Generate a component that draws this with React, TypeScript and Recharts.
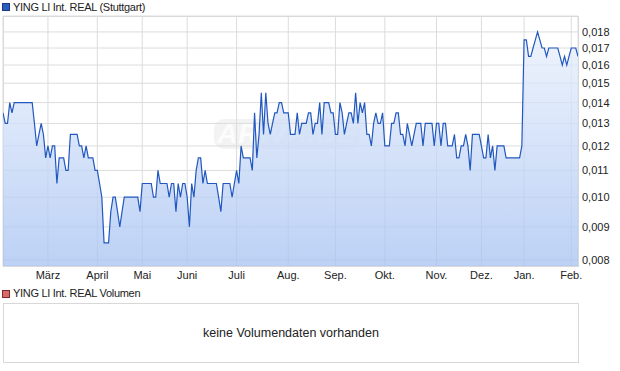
import React from 'react';
import { AreaChart, Area, XAxis, YAxis, CartesianGrid } from 'recharts';

// Daily closing prices (EUR), grouped by month
const febPrev = [0.0135, 0.013, 0.013, 0.014, 0.0135, 0.014, 0.014, 0.014, 0.014, 0.014, 0.014, 0.014, 0.014, 0.014, 0.013, 0.012, 0.0125, 0.013, 0.0125, 0.0115];
const mar = [0.012, 0.0115, 0.012, 0.012, 0.0105, 0.0115, 0.0115, 0.0115, 0.011, 0.011, 0.0125, 0.0125, 0.0125, 0.0125, 0.012, 0.012, 0.0115, 0.012, 0.0115, 0.0115, 0.0115, 0.011];
const apr = [0.011, 0.0105, 0.010, 0.0085, 0.0085, 0.0085, 0.0095, 0.010, 0.010, 0.0095, 0.009, 0.0095, 0.010, 0.010, 0.010, 0.010, 0.010, 0.010, 0.010, 0.0095];
const may = [0.0105, 0.0105, 0.0105, 0.0105, 0.0105, 0.010, 0.010, 0.011, 0.0105, 0.0105, 0.0105, 0.0105, 0.010, 0.0105, 0.0105, 0.0095, 0.0105, 0.010, 0.0105, 0.0105];
const jun = [0.010, 0.009, 0.0105, 0.010, 0.011, 0.0115, 0.0115, 0.0105, 0.011, 0.0105, 0.0105, 0.0105, 0.0105, 0.0105, 0.010, 0.0095, 0.0105, 0.0105, 0.0105, 0.0105, 0.010, 0.0105];
const jul = [0.011, 0.0105, 0.012, 0.0115, 0.0115, 0.0115, 0.0115, 0.011, 0.0135, 0.0115, 0.0125, 0.0145, 0.0125, 0.0145, 0.013, 0.0125, 0.013, 0.0135, 0.0135, 0.014, 0.014, 0.0135, 0.0135];
const aug = [0.0135, 0.0125, 0.0125, 0.0125, 0.0135, 0.0125, 0.013, 0.013, 0.013, 0.0135, 0.0135, 0.0125, 0.013, 0.013, 0.014, 0.0125, 0.014, 0.014, 0.014, 0.0135, 0.0135];
const sep = [0.0125, 0.0125, 0.014, 0.0135, 0.0125, 0.013, 0.0135, 0.0135, 0.013, 0.0145, 0.013, 0.014, 0.0135, 0.014, 0.0125, 0.0125, 0.012, 0.013, 0.0135, 0.013, 0.013, 0.0135];
const oct = [0.012, 0.012, 0.012, 0.013, 0.013, 0.0135, 0.0135, 0.0125, 0.0125, 0.012, 0.013, 0.0125, 0.012, 0.0125, 0.013, 0.013, 0.013, 0.012, 0.013, 0.013, 0.013, 0.013, 0.012];
const nov = [0.013, 0.013, 0.012, 0.013, 0.013, 0.012, 0.012, 0.012, 0.0125, 0.0115, 0.0115, 0.012, 0.012, 0.0125, 0.012, 0.011, 0.0125, 0.0125, 0.0125, 0.0125];
const dec = [0.012, 0.0115, 0.0115, 0.0125, 0.0115, 0.012, 0.011, 0.012, 0.012, 0.012, 0.012, 0.0115, 0.0115, 0.0115, 0.0115, 0.0115, 0.0115, 0.0115, 0.012];
const jan = [0.0175, 0.0175, 0.0165, 0.0165, 0.017, 0.0175, 0.018, 0.0175, 0.017, 0.017, 0.0165, 0.017, 0.017, 0.017, 0.017, 0.017, 0.0165, 0.016, 0.0165, 0.016, 0.0165];
const feb = [0.017, 0.017, 0.017, 0.0165];

const monthLabels = ['März', 'April', 'Mai', 'Juni', 'Juli', 'Aug.', 'Sep.', 'Okt.', 'Nov.', 'Dez.', 'Jan.', 'Feb.'];
const priceTicks = [0.008, 0.009, 0.010, 0.011, 0.012, 0.013, 0.014, 0.015, 0.016, 0.017, 0.018];
const priceDomain = [0.00783, 0.01905];

const seriesName = 'YING LI Int. REAL (Stuttgart)';
const volumeName = 'YING LI Int. REAL Volumen';
const volumeMessage = 'keine Volumendaten vorhanden';

const monthSeries = [mar, apr, may, jun, jul, aug, sep, oct, nov, dec, jan, feb];
const allValues: number[] = [febPrev, ...monthSeries].flat();
const data = allValues.map((v, i) => ({ i, v }));
const monthTicks: number[] = [];
{
  let acc = febPrev.length;
  monthSeries.forEach((m) => {
    monthTicks.push(acc);
    acc += m.length;
  });
}
const labelFor = (t: number) => {
  const k = monthTicks.indexOf(t);
  return k >= 0 ? monthLabels[k] : '';
};

const FONT = '"Liberation Sans", Arial, Helvetica, sans-serif';

export default function App() {
  return (
    <div
      style={{
        position: 'absolute',
        left: 0,
        top: 0,
        width: 620,
        height: 371,
        background: '#fff',
        fontFamily: FONT,
        color: '#222',
      }}
    >
      {/* price legend */}
      <div style={{ position: 'absolute', left: 2, top: 3, width: 6, height: 6, background: '#2a5cc4', border: '1px solid #1a3a80' }} />
      <div style={{ position: 'absolute', left: 13, top: 1, fontSize: 11, lineHeight: '13px', letterSpacing: '-0.3px', whiteSpace: 'nowrap' }}>
        {seriesName}
      </div>

      {/* plot frame */}
      <div style={{ position: 'absolute', left: 3, top: 16, width: 574, height: 249, border: '1px solid #d6d6d6' }} />

      {/* watermark */}
      <div
        style={{
          position: 'absolute',
          left: 214,
          top: 119,
          width: 146,
          height: 30,
          borderRadius: 10,
          background: 'rgba(190,190,190,0.18)',
          color: 'rgba(255,255,255,0.75)',
          fontSize: 28,
          fontWeight: 'bold',
          fontStyle: 'italic',
          lineHeight: '30px',
          textAlign: 'center',
          letterSpacing: '1px',
        }}
      >
        ARIVA.DE
      </div>

      <div style={{ position: 'absolute', left: 0, top: 0 }}>
        <AreaChart width={620} height={285} data={data} margin={{ top: 16, right: 0, left: 3, bottom: 0 }}>
          <defs>
            <linearGradient id="priceFill" x1="0" y1="0" x2="0" y2="1">
              <stop offset="0%" stopColor="#e9f0fc" stopOpacity={0.75} />
              <stop offset="100%" stopColor="#a6c2f2" stopOpacity={0.75} />
            </linearGradient>
          </defs>
          <CartesianGrid stroke="#dcdcdc" strokeWidth={1} />
          <XAxis
            dataKey="i"
            type="number"
            domain={[0, data.length - 1]}
            ticks={monthTicks}
            interval={0}
            tickFormatter={labelFor}
            height={19}
            tickLine={false}
            axisLine={false}
            tickSize={0}
            tickMargin={5}
            tick={{ fontSize: 11, fill: '#222', fontFamily: FONT }}
            allowDataOverflow
          />
          <YAxis
            orientation="right"
            scale="log"
            type="number"
            domain={priceDomain}
            allowDataOverflow
            ticks={priceTicks}
            interval={0}
            width={42}
            tickLine={false}
            axisLine={false}
            tickSize={0}
            tickMargin={4}
            tick={{ fontSize: 11, fill: '#222', fontFamily: FONT, textAnchor: 'start' }}
            tickFormatter={(v: number) => v.toFixed(3).replace('.', ',')}
          />
          <Area
            dataKey="v"
            type="linear"
            stroke="#2158c0"
            strokeWidth={1.2}
            fill="url(#priceFill)"
            fillOpacity={1}
            baseValue="dataMin"
            dot={false}
            activeDot={false}
            isAnimationActive={false}
          />
        </AreaChart>
      </div>

      {/* volume legend */}
      <div style={{ position: 'absolute', left: 2, top: 290, width: 6, height: 6, background: '#d96a6a', border: '1px solid #7a2a2a' }} />
      <div style={{ position: 'absolute', left: 13, top: 287, fontSize: 11, lineHeight: '13px', letterSpacing: '-0.3px', whiteSpace: 'nowrap' }}>
        {volumeName}
      </div>

      {/* volume panel */}
      <div
        style={{
          position: 'absolute',
          left: 3,
          top: 303,
          width: 574,
          height: 58,
          border: '1px solid #d8d8d8',
          display: 'flex',
          alignItems: 'center',
          justifyContent: 'center',
          fontSize: 12.5,
        }}
      >
        {volumeMessage}
      </div>
    </div>
  );
}
